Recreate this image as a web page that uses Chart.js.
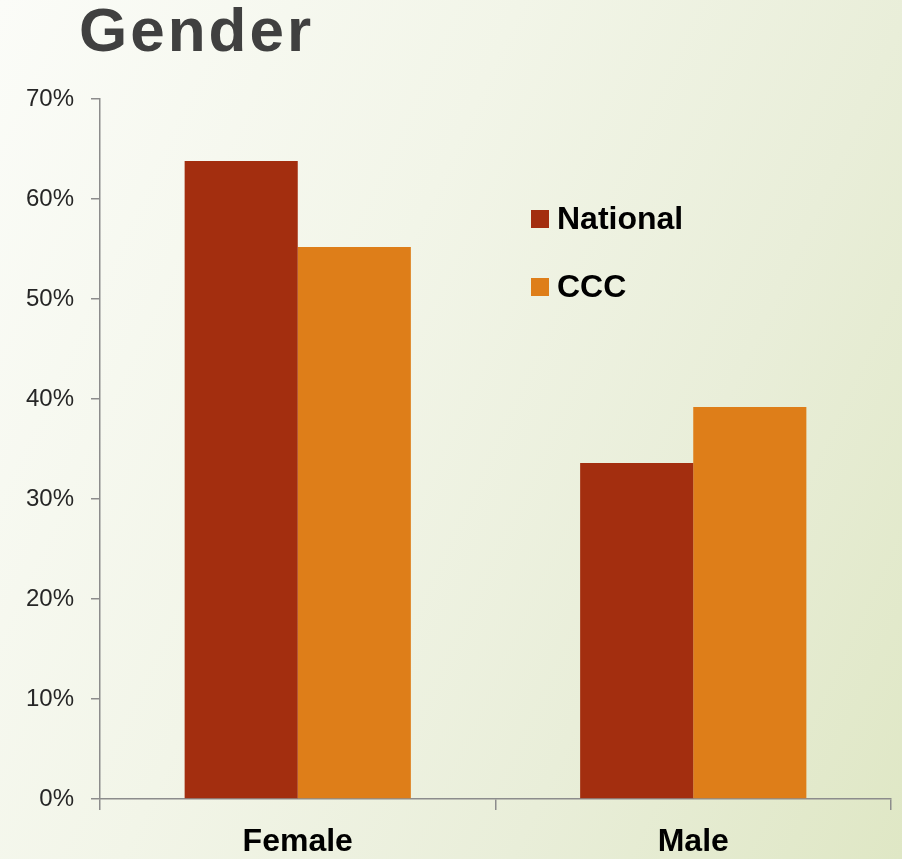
<!DOCTYPE html>
<html>
<head>
<meta charset="utf-8">
<script src="https://cdn.jsdelivr.net/npm/chart.js@4/dist/chart.umd.min.js"></script>
<style>
  html, body { margin: 0; padding: 0; }
  body {
    width: 902px; height: 859px; overflow: hidden; position: relative;
    background: linear-gradient(115deg, #fbfcf8 0%, #f2f5e8 40%, #e9eed9 70%, #dfe7c5 100%);
  }
  #title {
    position: absolute; left: 79px; top: -6px; margin: 0;
    font-family: "Liberation Sans", Arial, sans-serif; font-weight: bold;
    font-size: 62px; letter-spacing: 3px; color: #404040;
    -webkit-text-stroke: 0px;
  }
  #wrap { position: absolute; left: 0; top: 0; width: 902px; height: 859px; }
</style>
</head>
<body>
<h1 id="title">Gender</h1>
<div id="wrap"><canvas id="c" width="902" height="859"></canvas></div>
<script>
const categories = ["Female", "Male"];
const seriesNames = ["National", "CCC"];
const nationalValues = [63.8, 33.6];
const cccValues = [55.2, 39.2];
const yTicks = [0, 10, 20, 30, 40, 50, 60, 70];
const colors = ["#a32e0f", "#de7e19"];

const legendPlugin = {
  id: 'customLegend',
  afterDraw(chart) {
    const ctx = chart.ctx;
    ctx.save();
    ctx.font = 'bold 32px "Liberation Sans", Arial, sans-serif';
    ctx.textBaseline = 'middle';
    const rows = [219, 287];
    chart.data.datasets.forEach((ds, i) => {
      const y = rows[i];
      ctx.fillStyle = ds.backgroundColor;
      ctx.fillRect(531, y - 9, 18, 18);
      ctx.fillStyle = '#000';
      ctx.fillText(ds.label, 557, y + 1);
    });
    ctx.restore();
  }
};

new Chart(document.getElementById('c'), {
  type: 'bar',
  data: {
    labels: categories,
    datasets: [
      { label: seriesNames[0], data: nationalValues, backgroundColor: colors[0], borderWidth: 0 },
      { label: seriesNames[1], data: cccValues, backgroundColor: colors[1], borderWidth: 0 }
    ]
  },
  options: {
    responsive: false,
    animation: false,
    devicePixelRatio: 1,
    layout: { padding: { top: 99, right: 11, left: 0, bottom: 0 } },
    plugins: { legend: { display: false }, tooltip: { enabled: false }, title: { display: false } },
    datasets: { bar: { categoryPercentage: 0.572, barPercentage: 1.0 } },
    scales: {
      x: {
        afterFit(scale) { scale.height = 60; },
        grid: { offset: true, drawOnChartArea: false, drawTicks: true, tickLength: 11, color: '#8c8c8c', lineWidth: 1.5 },
        border: { display: true, color: '#8c8c8c', width: 1.5 },
        ticks: {
          color: '#000', padding: 13,
          font: { family: '"Liberation Sans", Arial, sans-serif', size: 32, weight: 'bold' }
        }
      },
      y: {
        min: 0, max: 70,
        afterFit(scale) { scale.width = 100; },
        afterBuildTicks(scale) { scale.ticks = yTicks.map(v => ({ value: v })); },
        grid: { drawOnChartArea: false, drawTicks: true, tickLength: 9, color: '#8c8c8c', lineWidth: 1.5 },
        border: { display: true, color: '#8c8c8c', width: 1.5 },
        ticks: {
          color: '#262626', padding: 17,
          font: { family: '"Liberation Sans", Arial, sans-serif', size: 24 },
          callback: v => v + '%'
        }
      }
    }
  },
  plugins: [legendPlugin]
});
</script>
</body>
</html>
